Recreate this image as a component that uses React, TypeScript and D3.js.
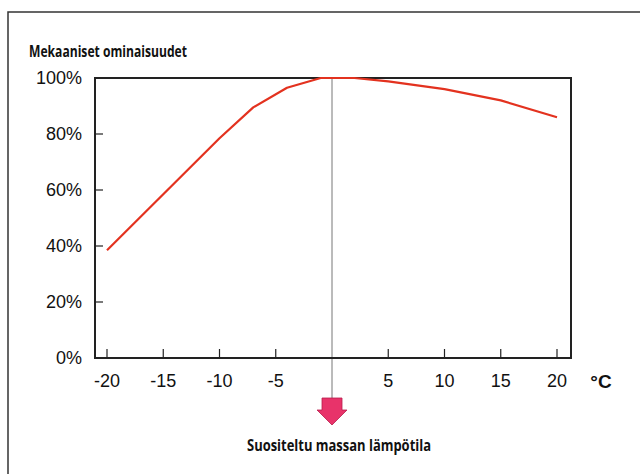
import React from "react";
import * as d3 from "d3";

const temps = [-20, -15, -10, -7, -4, -1, 2, 5, 10, 15, 20];
const values = [38.5, 58.5, 78.5, 89.5, 96.5, 100, 100, 98.8, 96, 92, 86];
const xTicks = [-20, -15, -10, -5, 0, 5, 10, 15, 20];
const xTickLabels = ["-20", "-15", "-10", "-5", "", "5", "10", "15", "20"];
const yTicks = [0, 20, 40, 60, 80, 100];
const title = "Mekaaniset ominaisuudet";
const caption = "Suositeltu massan lämpötila";
const unit = "°C";

export default function App() {
  const W = 640, H = 474;
  const left = 95, right = 571, top = 78, bottom = 358;
  const x = d3.scaleLinear().domain([-20, 20]).range([107, 557]);
  const y = d3.scaleLinear().domain([0, 100]).range([bottom, top]);
  const line = d3.line<number>().x((_, i) => x(temps[i])).y((d) => y(d));
  const x0 = x(0);
  const sans = "Arial, 'Liberation Sans', Helvetica, sans-serif";
  const cond = "'Open Sans', 'Noto Sans', sans-serif";
  return (
    <svg width={W} height={H} style={{ position: "absolute", left: 0, top: 0, background: "#fff" }}>
      <rect x={0} y={0} width={W} height={H} fill="#fff" />
      <path d={`M8,${H} L8,12 L${W},12`} fill="none" stroke="#333" strokeWidth={1.5} />
      <text x={29} y={57} fontFamily={cond} fontWeight="bold" fontSize={16.5} fill="#111" textLength={158} lengthAdjust="spacingAndGlyphs">{title}</text>
      <line x1={x0} x2={x0} y1={top} y2={398} stroke="#777" strokeWidth={1} />
      <rect x={left} y={top} width={right - left} height={bottom - top} fill="none" stroke="#222" strokeWidth={2} />
      {yTicks.map((t) => (
        <g key={"y" + t}>
          {t > 0 && t < 100 && <line x1={left} x2={left + 8} y1={y(t)} y2={y(t)} stroke="#222" strokeWidth={1.2} />}
          <text x={82} y={y(t) + 6} textAnchor="end" fontFamily={sans} fontSize={18} fill="#111">{t + "%"}</text>
        </g>
      ))}
      {xTicks.map((t, i) => (
        <g key={"x" + t}>
          {t !== 0 && <line x1={x(t)} x2={x(t)} y1={bottom} y2={bottom - 9} stroke="#222" strokeWidth={1.2} />}
          <text x={x(t)} y={387} textAnchor="middle" fontFamily={sans} fontSize={18} fill="#111">{xTickLabels[i]}</text>
        </g>
      ))}
      <text x={601} y={388} textAnchor="middle" fontFamily={sans} fontWeight="bold" fontSize={19} fill="#111">{unit}</text>
      <path d={line(values) || ""} fill="none" stroke="#e3321f" strokeWidth={2.2} strokeLinejoin="round" />
      <path
        d={`M${x0 - 10},398 L${x0 + 10},398 L${x0 + 10},410 L${x0 + 15},410 L${x0},425 L${x0 - 15},410 L${x0 - 10},410 Z`}
        fill="#e8336a"
        stroke="#b81d4c"
        strokeWidth={0.8}
      />
      <text x={339} y={451} textAnchor="middle" fontFamily={cond} fontWeight="bold" fontSize={16} fill="#111" textLength={184} lengthAdjust="spacingAndGlyphs">{caption}</text>
    </svg>
  );
}
